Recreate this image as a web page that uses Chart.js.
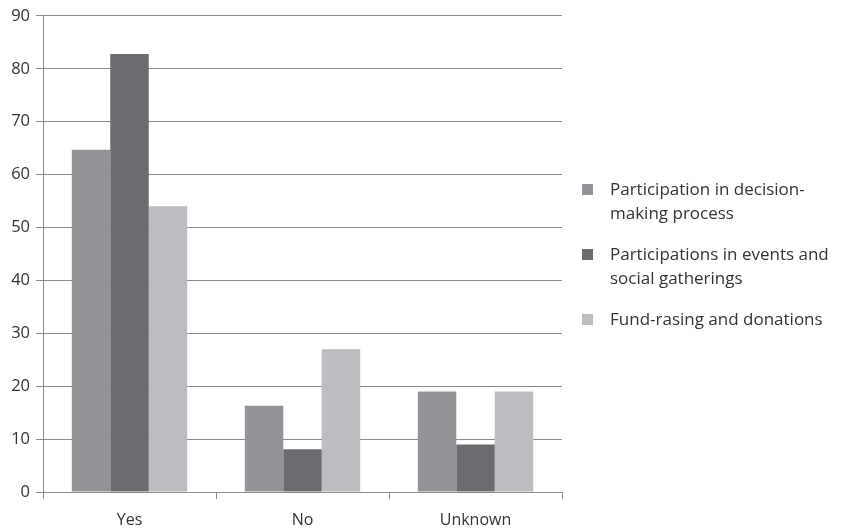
<!DOCTYPE html>
<html>
<head>
<meta charset="utf-8">
<script src="https://cdn.jsdelivr.net/npm/chart.js@4/dist/chart.umd.min.js"></script>
<style>
  html, body { margin: 0; padding: 0; background: #fff; }
  #wrap { position: relative; width: 843px; height: 529px; }
  #legend { position: absolute; left: 582px; top: 177px; font-family: "Open Sans", sans-serif; font-size: 17px; color: #333; white-space: nowrap; }
  .item { position: relative; padding-left: 28px; line-height: 24px; margin-bottom: 17px; }
  .box { position: absolute; left: 0; top: 7px; width: 11px; height: 11px; }
</style>
</head>
<body>
<div id="wrap">
  <canvas id="c" width="843" height="529"></canvas>
  <div id="legend"></div>
</div>
<script>
const categories = ["Yes", "No", "Unknown"];
const seriesNames = [
  ["Participation in decision-", "making process"],
  ["Participations in events and", "social gatherings"],
  ["Fund-rasing and donations"]
];
const decisionMaking = [64.7, 16.3, 19];
const eventsGatherings = [82.8, 8.1, 9];
const fundRaising = [54, 27, 19];
const seriesColors = ["#939497", "#6b6c70", "#bcbdc1"];

const seriesValues = [decisionMaking, eventsGatherings, fundRaising];

const chart = new Chart(document.getElementById("c"), {
  type: "bar",
  data: {
    labels: categories,
    datasets: seriesValues.map((vals, i) => ({
      label: seriesNames[i].join(" "),
      data: vals,
      backgroundColor: seriesColors[i],
      borderWidth: 0,
      categoryPercentage: 0.667,
      barPercentage: 1.0
    }))
  },
  options: {
    responsive: false,
    animation: false,
    layout: { padding: { left: 0, right: 281, top: 6, bottom: 0 } },
    plugins: { legend: { display: false }, tooltip: { enabled: false } },
    scales: {
      x: {
        grid: { drawOnChartArea: false, color: "#8a8a8a", tickLength: 7, offset: true },
        border: { color: "#8a8a8a" },
        ticks: { color: "#333", font: { family: "Open Sans", size: 16 }, padding: 12 },
        afterFit: (s) => { s.height = 37; }
      },
      y: {
        min: 0, max: 90,
        ticks: { stepSize: 10, color: "#333", font: { family: "Open Sans", size: 16.5 }, padding: 6 },
        grid: { color: "#8a8a8a", tickLength: 7 },
        border: { color: "#8a8a8a" },
        afterFit: (s) => { s.width = 43; }
      }
    }
  }
});

// Legend built from the chart's datasets
const legend = document.getElementById("legend");
chart.data.datasets.forEach((ds, i) => {
  const item = document.createElement("div");
  item.className = "item";
  const box = document.createElement("span");
  box.className = "box";
  box.style.background = ds.backgroundColor;
  item.appendChild(box);
  seriesNames[i].forEach((line, j) => {
    if (j) item.appendChild(document.createElement("br"));
    item.appendChild(document.createTextNode(line));
  });
  legend.appendChild(item);
});
</script>
</body>
</html>
